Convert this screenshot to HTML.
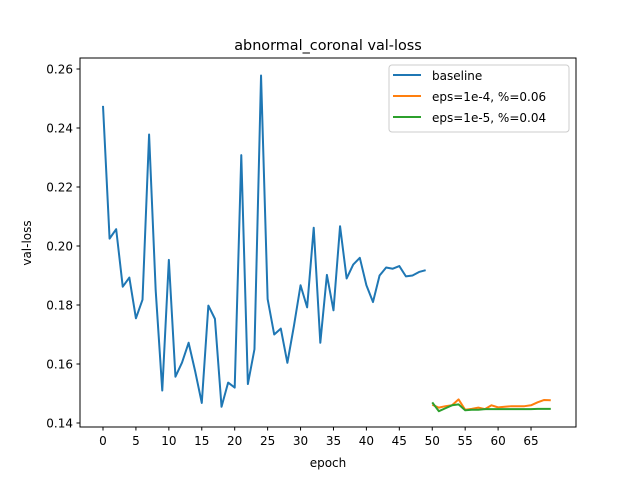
<!DOCTYPE html>
<html><head><meta charset="utf-8"><style>
body{margin:0;background:#fff;font-family:"Liberation Sans","DejaVu Sans",sans-serif;}
text{font-family:"DejaVu Sans","Liberation Sans",sans-serif;}
</style></head><body>
<svg id="chart" width="640" height="480" xmlns="http://www.w3.org/2000/svg">
<rect width="640" height="480" fill="#fff"/>
<text x="328" y="50" font-size="14.4" text-anchor="middle">abnormal_coronal val-loss</text>
<g id="ticks"></g>
<g id="series"></g>
<rect x="80" y="58" width="496" height="369" fill="none" stroke="#000" stroke-width="1"/>
<text x="328" y="467" font-size="12" text-anchor="middle">epoch</text>
<text x="0" y="0" font-size="12" text-anchor="middle" transform="translate(31,243) rotate(-90)">val-loss</text>
<g>
<rect x="389" y="65" width="180" height="67" rx="3" fill="#fff" fill-opacity="0.8" stroke="#ccc"/>
<line x1="393" y1="75" x2="421" y2="75" stroke="#1f77b4" stroke-width="2"/>
<text x="432" y="80" font-size="12">baseline</text>
<line x1="393" y1="96" x2="421" y2="96" stroke="#ff7f0e" stroke-width="2"/>
<text x="432" y="101" font-size="12">eps=1e-4, %=0.06</text>
<line x1="393" y1="117" x2="421" y2="117" stroke="#2ca02c" stroke-width="2"/>
<text x="432" y="122" font-size="12">eps=1e-5, %=0.04</text>
</g>
</svg>
<script>
const xTicks=[0,5,10,15,20,25,30,35,40,45,50,55,60,65];
const yTicks=[0.14,0.16,0.18,0.20,0.22,0.24,0.26];
const baseline=[0.2475,0.2025,0.2057,0.1862,0.1893,0.1755,0.1818,0.2378,0.185,0.151,0.1953,0.1557,0.1605,0.1672,0.1575,0.1468,0.1798,0.1753,0.1455,0.1537,0.1520,0.2308,0.1532,0.1650,0.2578,0.182,0.170,0.172,0.1604,0.173,0.1867,0.1792,0.2062,0.1672,0.1902,0.1782,0.2067,0.189,0.1937,0.1960,0.1867,0.1810,0.1900,0.1927,0.1923,0.1932,0.1897,0.1900,0.1912,0.1918];
const eps4=[0.1462,0.1452,0.1457,0.1460,0.1480,0.1445,0.1448,0.1452,0.1447,0.1460,0.1453,0.1455,0.1457,0.1457,0.1457,0.1460,0.1470,0.1478,0.1477];
const eps5=[0.1470,0.1440,0.1450,0.1460,0.1463,0.1443,0.1445,0.1445,0.1447,0.1447,0.1447,0.1447,0.1447,0.1447,0.1447,0.1447,0.1448,0.1448,0.1448];
const eps4Start=50, eps5Start=50;
const X=v=>103+v*6.585;
const Y=v=>423-(v-0.14)/0.02*59;
const NS="http://www.w3.org/2000/svg";
const tg=document.getElementById('ticks'), sg=document.getElementById('series');
function mk(t,a,p){const e=document.createElementNS(NS,t);for(const k in a)e.setAttribute(k,a[k]);p.appendChild(e);return e;}
xTicks.forEach(t=>{
 const l=mk('line',{x1:X(t),x2:X(t),y1:427,y2:430.5,stroke:'#000'},tg);
 
 
 const s=mk('text',{x:X(t),y:445,'font-size':12,'text-anchor':'middle'},tg);s.textContent=t;
 
 
});
yTicks.forEach(t=>{
 const l=mk('line',{x1:76.5,x2:80,y1:Y(t),y2:Y(t),stroke:'#000'},tg);
 
 
 const s=mk('text',{x:73,y:Y(t)+4.5,'font-size':12,'text-anchor':'end'},tg);s.textContent=t.toFixed(2);
 
 
});
function line(vals,start,color,name){
 const pts=vals.map((v,i)=>X(start+i).toFixed(2)+','+Y(v).toFixed(2)).join(' ');
 const p=mk('polyline',{points:pts,fill:'none',stroke:color,'stroke-width':2,'stroke-linejoin':'round'},sg);
 
 
}
line(baseline,0,'#1f77b4','baseline-line');
line(eps4,eps4Start,'#ff7f0e','eps4-line');
line(eps5,eps5Start,'#2ca02c','eps5-line');
</script>
</body></html>
